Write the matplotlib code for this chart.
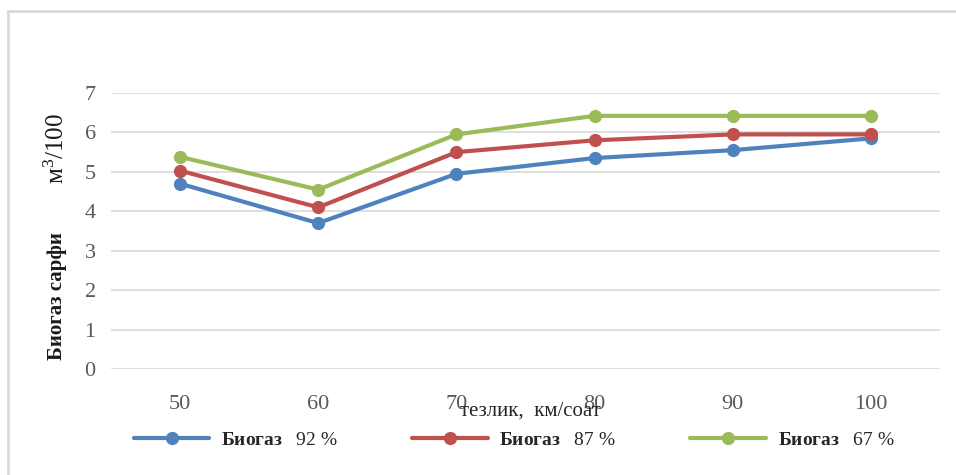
import matplotlib
matplotlib.use("Agg")
import matplotlib.pyplot as plt
from matplotlib.patches import Rectangle

plt.rcParams['font.family'] = ['Liberation Serif', 'DejaVu Serif']
plt.rcParams['mathtext.fontset'] = 'custom'
plt.rcParams['mathtext.rm'] = 'Liberation Serif'
plt.rcParams['mathtext.bf'] = 'Liberation Serif:bold'
plt.rcParams['mathtext.it'] = 'Liberation Serif:italic'

# Speed categories (km/h) and biogas consumption (m3 per 100 km)
speeds = ["50", "60", "70", "80", "90", "100"]
biogas_92 = [4.7, 3.7, 4.95, 5.35, 5.55, 5.85]
biogas_87 = [5.03, 4.1, 5.5, 5.8, 5.95, 5.95]
biogas_67 = [5.38, 4.55, 5.95, 6.42, 6.42, 6.42]
series_labels = ["92 %", "87 %", "67 %"]
series_colors = ["#4F81BD", "#C0504D", "#9BBB59"]
y_ticks = [0, 1, 2, 3, 4, 5, 6, 7]

W, H = 956, 475
fig = plt.figure(figsize=(W / 100, H / 100), dpi=100)
fig.patch.set_facecolor("white")

# light frame around the chart area
fig.patches.append(Rectangle((8 / W, -0.05), 1.1, (H - 11) / H + 0.05,
                             transform=fig.transFigure, fill=False,
                             edgecolor="#d9d9d9", linewidth=2.0))

ax = fig.add_axes([111 / W, (H - 369) / H, (940 - 111) / W, (369 - 93) / H])
x = list(range(len(speeds)))

for vals, lab, col in zip([biogas_92, biogas_87, biogas_67], series_labels, series_colors):
    ax.plot(x, vals, color=col, linewidth=3.0, marker="o", markersize=8.5,
            solid_capstyle="round",
            label=r"$\mathbf{Биогаз}$" + "   " + lab)

ax.set_xlim(-0.5, len(speeds) - 0.5)
ax.set_ylim(0, 7)
ax.set_yticks(y_ticks)
ax.set_yticklabels([str(v) for v in y_ticks], fontsize=16, color="#595959")
ax.set_xticks(x)
ax.set_xticklabels(speeds, fontsize=16, color="#595959")
ax.tick_params(axis="both", length=0)
ax.tick_params(axis="x", pad=19)
ax.tick_params(axis="y", pad=11)
ax.grid(axis="y", color="#d9d9d9", linewidth=1.2)
ax.set_axisbelow(True)
for s in ax.spines.values():
    s.set_visible(False)

# vertical axis title: bold quantity name followed by the unit
fig.text(57 / W, (H - 296) / H, "Биогаз сарфи", rotation=90, ha="center",
         va="center", fontsize=15, fontweight="bold", color="#1a1a1a")
fig.text(57 / W, (H - 149) / H, r"м$^{3}$/100", rotation=90, ha="center",
         va="center", fontsize=18, color="#1a1a1a")

fig.text(530 / W, (H - 411) / H, "тезлик,  км/соат", ha="center", va="center",
         fontsize=15, color="#262626")

leg = ax.legend(loc="center",
                bbox_to_anchor=((514 - 111) / (940 - 111), (369 - 440) / (369 - 93)),
                ncol=3, frameon=False, fontsize=14, handlelength=3.9,
                handletextpad=0.6, columnspacing=3.8)
for t in leg.get_texts():
    t.set_color("#262626")

fig.savefig("out.png", dpi=100)
